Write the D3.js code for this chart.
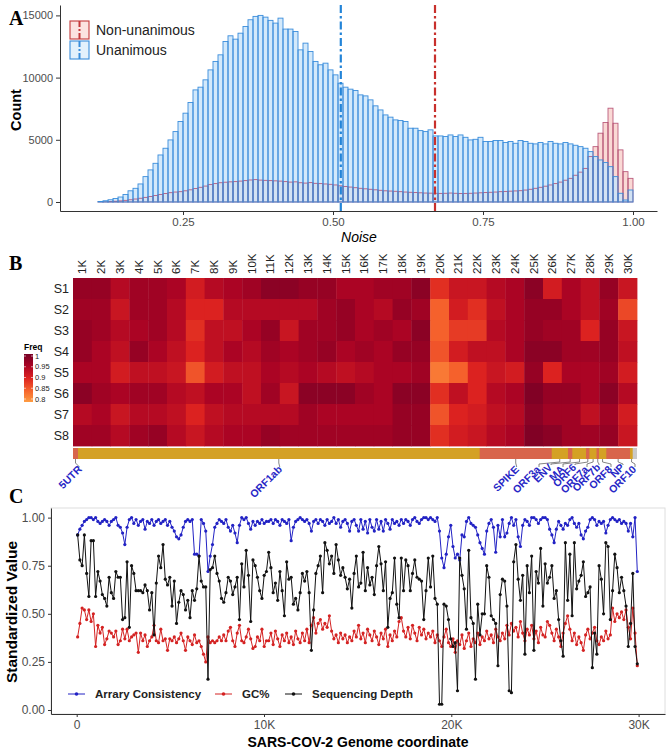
<!DOCTYPE html>
<html>
<head>
<meta charset="utf-8">
<script src="https://cdn.jsdelivr.net/npm/d3@7"></script>
<style>
  body { margin: 0; background: #fff; }
</style>
</head>
<body>
<svg id="fig"></svg>
<script>
// ---- panel A: noise histogram (bins of 1/120 ending at 1.0) ----
var noiseUnanimous = [
  0,0,40,100,180,280,400,600,900,1100,
  1450,2040,2580,3110,3780,4320,4990,5660,6470,7140,
  8000,9010,9230,9820,10620,11300,11830,12900,13360,13090,
  13570,14110,14650,14920,15000,14860,14600,14380,14780,13900,
  13900,13710,12230,12770,12100,11300,11030,11160,10620,10220,
  9550,9230,9070,8960,8610,8530,8210,7730,7400,7000,
  6820,6600,6550,6470,5930,5930,5740,5660,5800,5310,
  5310,5260,5390,5260,5390,5200,4990,5040,5200,4860,
  4860,4940,4940,4780,4860,4720,4940,4860,4720,4670,
  4780,4670,4860,4720,4670,4780,4670,4560,4450,4320,
  4050,3650,3380,3170,2840,2040,700,160,965
];
var noiseNonUnanimous = [
  0,0,10,20,40,60,90,130,180,240,
  300,370,440,520,600,680,750,800,830,900,
  980,1080,1180,1280,1400,1480,1550,1590,1620,1640,
  1680,1720,1770,1800,1760,1740,1720,1700,1680,1640,
  1600,1620,1550,1520,1560,1500,1480,1450,1420,1370,
  1300,1250,1200,1150,1100,1060,1020,980,940,900,
  880,860,830,800,780,760,740,720,710,700,
  690,700,720,700,680,690,700,720,740,760,
  780,800,830,850,870,890,910,960,1020,1100,
  1180,1270,1370,1480,1600,1750,1900,2150,2400,2700,
  3650,4450,5530,6390,7540,6330,4190,2440,1900
];
var medianUnanimous = 0.513;
var medianNonUnanimous = 0.67;
var noiseTicks = [0.25, 0.5, 0.75, 1.0];
var countTicks = [0, 5000, 10000, 15000];

// ---- panel B: heatmap ----
var sampleNames = ['S1','S2','S3','S4','S5','S6','S7','S8'];
var binLabels = ['1K','2K','3K','4K','5K','6K','7K','8K','9K','10K',
  '11K','12K','13K','14K','15K','16K','17K','18K','19K','20K',
  '21K','22K','23K','24K','25K','26K','27K','28K','29K','30K'];
var freqMatrix = [
  [0.97,0.97,0.94,0.96,0.96,0.95,0.91,0.94,0.95,0.96,0.98,0.98,0.97,0.97,0.95,0.95,0.96,0.96,0.98,0.89,0.92,0.92,0.94,0.95,0.98,0.91,0.95,0.93,0.97,0.92],
  [0.96,0.96,0.92,0.96,0.96,0.94,0.90,0.90,0.94,0.94,0.94,0.94,0.94,0.96,0.97,0.95,0.94,0.97,0.96,0.85,0.91,0.89,0.93,0.95,0.97,0.97,0.95,0.93,0.96,0.87],
  [0.97,0.96,0.94,0.95,0.96,0.94,0.89,0.93,0.93,0.95,0.97,0.92,0.96,0.96,0.97,0.95,0.96,0.95,0.98,0.85,0.88,0.88,0.94,0.95,0.97,0.96,0.96,0.90,0.97,0.92],
  [0.97,0.95,0.93,0.97,0.95,0.93,0.90,0.93,0.95,0.94,0.96,0.95,0.96,0.97,0.95,0.96,0.95,0.97,0.97,0.86,0.91,0.93,0.93,0.95,0.98,0.98,0.96,0.96,0.97,0.93],
  [0.95,0.95,0.91,0.93,0.93,0.92,0.86,0.91,0.93,0.93,0.95,0.94,0.95,0.94,0.93,0.94,0.95,0.95,0.96,0.83,0.85,0.90,0.92,0.91,0.97,0.90,0.95,0.95,0.96,0.91],
  [0.98,0.96,0.95,0.96,0.96,0.94,0.93,0.95,0.95,0.93,0.96,0.92,0.98,0.98,0.98,0.96,0.95,0.98,0.98,0.89,0.93,0.90,0.94,0.95,0.99,0.97,0.97,0.95,0.98,0.94],
  [0.94,0.95,0.92,0.94,0.94,0.93,0.90,0.93,0.94,0.94,0.94,0.94,0.96,0.95,0.95,0.95,0.95,0.97,0.97,0.86,0.90,0.91,0.93,0.94,0.98,0.96,0.96,0.93,0.96,0.91],
  [0.96,0.96,0.94,0.96,0.97,0.94,0.92,0.94,0.95,0.95,0.97,0.96,0.96,0.96,0.96,0.96,0.96,0.97,0.97,0.89,0.91,0.92,0.94,0.95,0.99,0.98,0.96,0.96,0.97,0.92]
];
var freqTicks = [1, 0.95, 0.9, 0.85, 0.8];

// genome annotation (bp)
var geneNames = ['5UTR','ORF1ab','SPIKE','ORF3a','ENV','MA','ORF6','ORF7a','ORF7b','ORF8','NP','ORF10','3UTR'];
var geneStart = [1,266,21563,25393,26245,26523,27202,27394,27756,27894,28274,29558,29675];
var geneEnd   = [265,21555,25384,26220,26472,27191,27387,27759,27887,28259,29533,29674,29903];
var genomeLength = 29903;

// ---- panel C: window statistics ----
var windowStart = 50, windowStep = 120;
var arrayConsistency = [
  0.91,0.94,0.96,0.98,0.99,1.00,1.00,0.99,1.00,0.98,
  0.97,0.98,0.99,0.98,0.96,0.98,0.99,1.00,0.96,0.95,
  0.92,0.86,0.95,0.99,1.00,0.97,0.99,0.96,0.98,0.99,
  0.94,0.98,0.97,0.99,0.96,0.98,0.99,0.97,0.98,0.99,
  0.96,0.98,0.95,0.93,0.90,0.89,0.91,0.95,0.98,0.99,
  0.98,0.99,0.81,0.81,0.80,0.99,0.97,0.93,0.72,0.80,
  0.86,0.95,0.97,0.99,0.98,0.97,0.99,0.95,0.93,0.96,
  0.92,0.87,0.96,1.00,0.99,1.00,0.97,0.94,0.98,0.96,
  0.98,0.97,0.99,0.97,0.98,
  0.98,0.99,0.97,0.99,0.98,0.96,0.99,0.98,0.97,0.99,
  0.88,0.95,0.98,0.99,1.00,0.99,0.98,0.99,0.97,0.93,
  0.98,0.99,0.97,0.99,0.98,0.96,0.99,0.97,0.98,1.00,
  0.97,0.99,0.95,0.98,0.99,0.97,0.93,0.98,0.99,0.96,
  0.93,0.99,0.94,0.98,0.92,0.99,0.95,0.93,0.99,0.94,
  0.98,0.93,0.99,0.97,0.94,0.99,0.97,0.98,0.96,0.99,
  0.97,0.99,0.98,0.96,0.99,1.00,0.98,0.97,0.99,1.00,
  1.00,0.99,1.00,0.99,0.98,1.00,0.93,0.79,
  0.74,0.81,0.90,0.96,0.85,0.79,0.81,0.78,0.91,0.90,
  0.98,1.00,0.97,0.96,0.95,0.91,0.87,0.84,0.81,0.93,
  0.97,0.99,0.95,0.82,0.96,0.90,0.99,0.90,0.92,0.97,
  1.00,0.96,0.99,0.90,0.85,0.96,0.99,0.98,0.96,1.00,
  1.00,0.99,0.97,0.99,1.00,1.00,0.99,0.94,0.91,0.87,
  0.94,0.98,0.96,0.94,0.97,0.96,0.99,1.00,0.97,0.95,
  0.97,0.91,0.89,0.93,0.95,0.99,1.00,0.99,0.96,0.98,
  0.97,0.98,0.92,0.96,0.99,1.00,0.99,0.98,0.99,0.97,
  0.98,0.97,0.93,0.97,0.90,1.00,0.72
];
var gcContent = [
  0.38,0.45,0.53,0.52,0.47,0.52,0.46,0.50,0.33,0.44,
  0.40,0.43,0.34,0.37,0.41,0.40,0.38,0.41,0.34,0.36,
  0.42,0.37,0.42,0.36,0.38,0.39,0.40,0.30,0.40,0.36,
  0.39,0.33,0.36,0.38,0.44,0.36,0.35,0.42,0.36,0.37,
  0.31,0.37,0.36,0.38,0.35,0.37,0.40,0.36,0.31,0.38,
  0.36,0.34,0.39,0.35,0.36,0.33,0.29,0.25,0.38,0.35,
  0.36,0.35,0.36,0.38,0.36,0.39,0.36,0.41,0.43,0.36,
  0.33,0.40,0.44,0.36,0.35,0.38,0.42,0.37,0.32,0.33,
  0.38,0.36,0.42,0.33,0.36,
  0.36,0.40,0.34,0.41,0.37,0.33,0.39,0.36,0.40,0.35,
  0.38,0.34,0.41,0.37,0.35,0.40,0.36,0.42,0.35,0.44,
  0.48,0.40,0.45,0.47,0.42,0.45,0.43,0.49,0.41,0.37,
  0.39,0.35,0.40,0.37,0.39,0.35,0.38,0.36,0.41,0.38,
  0.44,0.37,0.40,0.35,0.42,0.39,0.36,0.41,0.38,0.34,
  0.40,0.37,0.42,0.33,0.39,0.36,0.41,0.38,0.46,0.48,
  0.41,0.38,0.43,0.37,0.44,0.40,0.36,0.43,0.39,0.42,
  0.37,0.40,0.38,0.41,0.35,0.39,0.36,0.33,
  0.38,0.42,0.35,0.33,0.37,0.30,0.36,0.34,0.39,0.32,
  0.36,0.40,0.33,0.37,0.35,0.40,0.34,0.38,0.36,0.41,
  0.37,0.39,0.35,0.42,0.38,0.36,0.40,0.37,0.44,0.39,
  0.45,0.41,0.43,0.38,0.46,0.40,0.36,0.42,0.39,0.44,
  0.37,0.41,0.35,0.43,0.39,0.38,0.46,0.44,0.40,0.36,
  0.42,0.38,0.33,0.40,0.45,0.49,0.42,0.36,0.40,0.34,
  0.38,0.35,0.31,0.39,0.42,0.37,0.40,0.43,0.36,0.34,
  0.38,0.36,0.41,0.37,0.39,0.53,0.46,0.50,0.48,0.51,
  0.47,0.52,0.43,0.37,0.53,0.40,0.23
];
var seqDepth = [
  0.91,0.78,0.75,0.91,0.71,0.59,0.88,0.88,0.59,0.72,
  0.67,0.60,0.58,0.54,0.69,0.61,0.58,0.72,0.69,0.69,
  0.47,0.48,0.77,0.43,0.75,0.71,0.62,0.62,0.62,0.61,
  0.65,0.62,0.52,0.61,0.39,0.66,0.80,0.74,0.86,0.68,
  0.65,0.69,0.54,0.67,0.45,0.56,0.62,0.60,0.52,0.57,
  0.48,0.62,0.57,0.63,0.80,0.67,0.64,0.64,0.16,0.73,
  0.74,0.80,0.71,0.67,0.58,0.56,0.61,0.69,0.67,0.60,
  0.64,0.69,0.47,0.76,0.64,0.83,0.70,0.46,0.78,0.75,
  0.69,0.62,0.58,0.70,0.72,
  0.82,0.74,0.61,0.66,0.57,0.72,0.62,0.49,0.77,0.68,
  0.69,0.55,0.58,0.52,0.61,0.71,0.67,0.72,0.61,0.31,
  0.52,0.71,0.75,0.80,0.61,0.87,0.83,0.76,0.80,0.71,
  0.86,0.78,0.70,0.74,0.69,0.63,0.68,0.53,0.71,0.80,
  0.64,0.66,0.82,0.62,0.74,0.65,0.69,0.60,0.75,0.85,
  0.76,0.62,0.77,0.43,0.58,0.61,0.79,0.55,0.48,0.79,
  0.62,0.78,0.75,0.62,0.71,0.78,0.69,0.68,0.67,0.47,
  0.62,0.79,0.64,0.80,0.58,0.55,0.03,0.03,
  0.55,0.54,0.47,0.37,0.33,0.35,0.10,0.79,0.70,0.63,
  0.42,0.83,0.48,0.45,0.16,0.55,0.39,0.50,0.50,0.75,
  0.69,0.49,0.47,0.45,0.23,0.60,0.68,0.67,0.54,0.10,
  0.09,0.77,0.86,0.68,0.57,0.70,0.29,0.75,0.61,0.80,
  0.31,0.72,0.66,0.84,0.54,0.76,0.66,0.69,0.75,0.58,
  0.62,0.47,0.36,0.28,0.87,0.57,0.81,0.49,0.87,0.63,
  0.67,0.70,0.77,0.59,0.61,0.64,0.22,0.40,0.29,0.75,
  0.68,0.50,0.87,0.85,0.47,0.62,0.81,0.74,0.61,0.69,
  0.62,0.54,0.33,0.45,0.71,0.33,0.24
];
var genomeTicks = [0, 10000, 20000, 30000];
var valueTicks = [0, 0.25, 0.5, 0.75, 1];

var W = 666, H = 754;
var FONT = '"Liberation Sans", Arial, sans-serif';
var SERIF = '"Liberation Serif", "Times New Roman", serif';
var svg = d3.select('#fig').attr('width', W).attr('height', H).attr('font-family', FONT);

function styleAxis(g, size) {
  g.attr('font-family', FONT).attr('font-size', size || 11);
  g.selectAll('.domain').attr('stroke', '#333').attr('stroke-width', 1);
  g.selectAll('.tick line').attr('stroke', '#333');
  g.selectAll('.tick text').attr('fill', '#4d4d4d');
}
function panelLetter(txt, x, y) {
  svg.append('text').attr('x', x).attr('y', y).text(txt)
    .attr('font-family', SERIF).attr('font-weight', 'bold').attr('font-size', 20);
}

// =============== A ===============
var xA = d3.scaleLinear().domain([0.045, 1.04]).range([60, 657]);
var yA = d3.scaleLinear().domain([-724, 15836]).range([211, 5]);
var binW = 1 / 120;
var gA = svg.append('g');

function histBars(counts) {
  var n = counts.length;
  return gA.append('g').selectAll('rect').data(counts).join('rect')
    .attr('x', function (d, i) { return xA(1 - (n - i) * binW); })
    .attr('width', xA(binW) - xA(0))
    .attr('y', function (d) { return yA(d); })
    .attr('height', function (d) { return yA(0) - yA(d); });
}
// layers: red fill, blue fill, red outline, blue outline (blue edges hide red sides)
histBars(noiseNonUnanimous).attr('fill', '#f3aaa2').attr('fill-opacity', 0.45).attr('stroke', 'none');
histBars(noiseUnanimous).attr('fill', '#c8e4fa').attr('fill-opacity', 0.8).attr('stroke', 'none');
histBars(noiseNonUnanimous).attr('fill', 'none')
  .attr('stroke', '#b0446a').attr('stroke-opacity', 0.85).attr('stroke-width', 0.9);
histBars(noiseUnanimous).attr('fill', 'none')
  .attr('stroke', '#3a8ddb').attr('stroke-width', 0.9);

var dashDot = '8,3,2.5,3';
[[medianUnanimous, '#2384d8'], [medianNonUnanimous, '#c8302c']].forEach(function (m) {
  gA.append('line').attr('x1', xA(m[0])).attr('x2', xA(m[0]))
    .attr('y1', 5).attr('y2', 211)
    .attr('stroke', m[1]).attr('stroke-width', 2.2).attr('stroke-dasharray', dashDot);
});

svg.append('g').attr('transform', 'translate(60,0)')
  .call(d3.axisLeft(yA).tickValues(countTicks).tickSize(4).tickSizeOuter(0).tickFormat(d3.format('d')))
  .call(styleAxis, 11);
svg.append('g').attr('transform', 'translate(0,211)')
  .call(d3.axisBottom(xA).tickValues(noiseTicks).tickSize(4).tickSizeOuter(0).tickFormat(d3.format('.2f')))
  .call(styleAxis, 11.5);

svg.append('text').attr('transform', 'translate(21,110) rotate(-90)')
  .attr('text-anchor', 'middle').attr('font-weight', 'bold').attr('font-size', 14.5).text('Count');
svg.append('text').attr('x', 359).attr('y', 242).attr('text-anchor', 'middle')
  .attr('font-style', 'italic').attr('font-size', 14).text('Noise');

// legend A
var legA = [['Non-unanimous', '#c43a3a', '#fbe3e0'], ['Unanimous', '#3a8ddb', '#e3f1fc']];
legA.forEach(function (d, i) {
  var y0 = 21 + i * 20;
  svg.append('rect').attr('x', 70).attr('y', y0).attr('width', 19).attr('height', 18)
    .attr('fill', d[2]).attr('stroke', d[1]).attr('stroke-width', 1.1);
  svg.append('line').attr('x1', 79.5).attr('x2', 79.5).attr('y1', y0).attr('y2', y0 + 18)
    .attr('stroke', d[1]).attr('stroke-width', 2).attr('stroke-dasharray', '6,2,2,2');
  svg.append('text').attr('x', 96).attr('y', y0 + 14).attr('font-size', 14).attr('fill', '#222').text(d[0]);
});
panelLetter('A', 9, 25);

// =============== B ===============
var xB = d3.scaleBand().domain(binLabels).range([73, 637]);
var yB = d3.scaleBand().domain(sampleNames).range([278, 446]);
var freqColor = d3.scaleLinear()
  .domain([0.8, 0.85, 0.9, 0.95, 1])
  .range(['#fe9c42', '#f5612c', '#dc2220', '#ab0424', '#760025'])
  .clamp(true);

var cells = [];
freqMatrix.forEach(function (row, r) {
  row.forEach(function (v, c) { cells.push({ s: sampleNames[r], b: binLabels[c], v: v }); });
});
svg.append('g').selectAll('rect').data(cells).join('rect')
  .attr('x', function (d) { return xB(d.b); })
  .attr('y', function (d) { return yB(d.s); })
  .attr('width', xB.bandwidth() + 0.4)
  .attr('height', yB.bandwidth() + 0.4)
  .attr('fill', function (d) { return freqColor(d.v); });

svg.append('g').selectAll('text').data(binLabels).join('text')
  .attr('transform', function (d) { return 'translate(' + (xB(d) + xB.bandwidth() / 2) + ',274) rotate(-90)'; })
  .attr('dy', '0.35em').attr('font-size', 11.5).attr('fill', '#222').text(function (d) { return d; });
svg.append('g').selectAll('text').data(sampleNames).join('text')
  .attr('x', 69).attr('y', function (d) { return yB(d) + yB.bandwidth() / 2; })
  .attr('dy', '0.36em').attr('text-anchor', 'end').attr('font-size', 12.5).attr('fill', '#222')
  .text(function (d) { return d; });

// Freq colour bar
var yLeg = d3.scaleLinear().domain([0.8, 1]).range([399, 356]);
var grad = svg.append('defs').append('linearGradient').attr('id', 'freqGrad')
  .attr('x1', 0).attr('y1', 0).attr('x2', 0).attr('y2', 1);
d3.range(0, 1.001, 0.05).forEach(function (t) {
  grad.append('stop').attr('offset', t).attr('stop-color', freqColor(1 - 0.2 * t));
});
svg.append('rect').attr('x', 24).attr('y', yLeg(1) - 2).attr('width', 9)
  .attr('height', yLeg(0.8) - yLeg(1) + 5).attr('fill', 'url(#freqGrad)');
svg.append('text').attr('x', 24).attr('y', 350).attr('font-size', 8.5).attr('font-weight', 'bold').text('Freq');
freqTicks.forEach(function (t) {
  svg.append('line').attr('x1', 24).attr('x2', 26).attr('y1', yLeg(t)).attr('y2', yLeg(t)).attr('stroke', '#fff').attr('stroke-width', 0.6);
  svg.append('line').attr('x1', 31).attr('x2', 33).attr('y1', yLeg(t)).attr('y2', yLeg(t)).attr('stroke', '#fff').attr('stroke-width', 0.6);
  svg.append('text').attr('x', 35).attr('y', yLeg(t)).attr('dy', '0.35em')
    .attr('font-size', 7.5).attr('fill', '#222').text(t);
});

// gene bar
var xG = d3.scaleLinear().domain([0, genomeLength]).range([73, 637]);
var gG = svg.append('g');
gG.append('rect').attr('x', 73).attr('y', 448).attr('width', 564).attr('height', 11).attr('fill', '#d4a125');
gG.selectAll('rect.gene').data(geneNames).join('rect').attr('class', 'gene')
  .attr('x', function (d, i) { return xG(geneStart[i]); })
  .attr('y', 448)
  .attr('width', function (d, i) { return Math.max(1, xG(geneEnd[i]) - xG(geneStart[i])); })
  .attr('height', 11)
  .attr('fill', function (d, i) {
    if (i === geneNames.length - 1) return '#c9c9c9';
    return i % 2 === 0 ? '#d8654c' : '#d4a125';
  });

// gene labels: the big genes sit under their centre, the small ones are spread out
var nLab = geneNames.length - 1;
var spreadFirst = 3, spreadX0 = 538, spreadX1 = 634;
for (var i = 0; i < nLab; i++) {
  var mid = xG((geneStart[i] + geneEnd[i]) / 2);
  var lx, ly;
  if (i < spreadFirst) { lx = mid + (i === 0 ? 4 : 1); ly = 469; }
  else {
    lx = spreadX0 + (spreadX1 - spreadX0) * (i - spreadFirst) / (nLab - 1 - spreadFirst);
    ly = 467 + (i % 2) * 2;
  }
  var pts = i < spreadFirst
    ? [[mid, 459], [mid, 463], [lx, ly - 2]]
    : [[mid, 459], [mid, 462], [lx + 1, 464], [lx + 1, ly - 2]];
  gG.append('path').attr('d', d3.line()(pts)).attr('fill', 'none')
    .attr('stroke', '#666').attr('stroke-width', 0.8);
  gG.append('text').attr('transform', 'translate(' + (lx + 3) + ',' + (ly + 1) + ') rotate(-45)')
    .attr('text-anchor', 'end').attr('font-size', 10.5).attr('font-weight', 'bold')
    .attr('fill', '#2626c6').text(geneNames[i]);
}
panelLetter('B', 9, 270);

// =============== C ===============
var xC = d3.scaleLinear().domain([-1372, 31409]).range([51, 665]);
var yC = d3.scaleLinear().domain([-0.0208, 1.05]).range([714, 508]);
var windows = seqDepth.map(function (d, i) { return windowStart + i * windowStep; });

svg.append('rect').attr('x', 51).attr('y', 508).attr('width', 614).attr('height', 206)
  .attr('fill', 'none').attr('stroke', '#dedede');

var series = [
  { name: 'Arrary Consistency', values: arrayConsistency, color: '#2222c4' },
  { name: 'GC%', values: gcContent, color: '#d42222' },
  { name: 'Sequencing Depth', values: seqDepth, color: '#111111' }
];
var lineC = d3.line()
  .x(function (d, i) { return xC(windows[i]); })
  .y(function (d) { return yC(d); });
var gC = svg.append('g');
series.forEach(function (s) {
  gC.append('path').attr('d', lineC(s.values)).attr('fill', 'none')
    .attr('stroke', s.color).attr('stroke-width', 1);
  gC.append('g').selectAll('circle').data(s.values).join('circle')
    .attr('cx', function (d, i) { return xC(windows[i]); })
    .attr('cy', function (d) { return yC(d); })
    .attr('r', 1.6).attr('fill', s.color);
});

svg.append('g').attr('transform', 'translate(51,0)')
  .call(d3.axisLeft(yC).tickValues(valueTicks).tickSize(3).tickSizeOuter(0).tickFormat(d3.format('.2f')))
  .call(styleAxis, 12);
svg.append('g').attr('transform', 'translate(0,714)')
  .call(d3.axisBottom(xC).tickValues(genomeTicks).tickSize(3).tickSizeOuter(0)
    .tickFormat(function (d) { return d === 0 ? '0' : (d / 1000) + 'K'; }))
  .call(styleAxis, 12);

svg.append('text').attr('transform', 'translate(17,612) rotate(-90)')
  .attr('text-anchor', 'middle').attr('font-weight', 'bold').attr('font-size', 15.5).text('Standardized Value');
svg.append('text').attr('x', 358).attr('y', 747).attr('text-anchor', 'middle')
  .attr('font-weight', 'bold').attr('font-size', 14).text('SARS-COV-2 Genome coordinate');

// legend C
var legX = [68, 215, 285];
series.forEach(function (s, i) {
  var x0 = legX[i], y0 = 694;
  svg.append('line').attr('x1', x0).attr('x2', x0 + 17).attr('y1', y0).attr('y2', y0)
    .attr('stroke', s.color).attr('stroke-width', 1);
  svg.append('circle').attr('cx', x0 + 8.5).attr('cy', y0).attr('r', 1.8).attr('fill', s.color);
  svg.append('text').attr('x', x0 + 27).attr('y', y0).attr('dy', '0.36em')
    .attr('font-size', 11.5).attr('font-weight', 'bold').attr('fill', '#222').text(s.name);
});
panelLetter('C', 9, 503);
</script>
</body>
</html>
